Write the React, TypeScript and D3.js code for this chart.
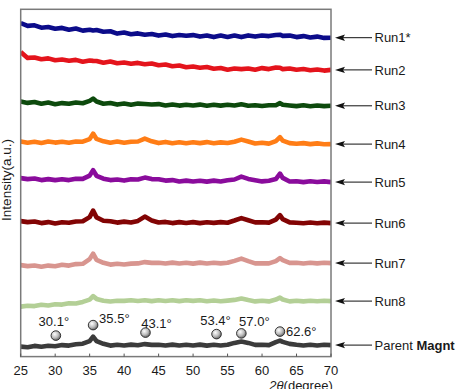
import React from "react";
import * as d3 from "d3";

const W = 457, H = 389;
const M = { left: 20.7, top: 9.3, right: 331, bottom: 356.6 };
const FONT = "'Liberation Sans', Arial, Helvetica, sans-serif";

// 2θ grid (degrees)
const TWO_THETA = [25, 26, 27, 28, 29, 30, 31, 32, 33, 34, 35, 35.5, 36, 37, 38, 39, 40, 41, 42, 43, 44, 45, 46, 47, 48, 49, 50, 51, 52, 53, 54, 55, 56, 57, 58, 59, 60, 61, 62, 62.6, 63, 64, 65, 66, 67, 68, 69, 70];

const X_TICKS = [25, 30, 35, 40, 45, 50, 55, 60, 65, 70];

const NAMES = ["Run1*", "Run2", "Run3", "Run4", "Run5", "Run6", "Run7", "Run8", "Parent"];
const COLORS = ["#0c0c8a", "#e4141c", "#0d4a0d", "#ff7d16", "#8a0c9c", "#820404", "#d8958f", "#b3cf96", "#3b3b3b"];
// vertical stacking offset of each pattern (a.u.)
const OFFSETS = [308.5, 276.5, 240.5, 202.5, 164.5, 123.5, 83.5, 45.5, 1.5];

const RUN1 = [25, 22.2, 22.8, 20.4, 21.1, 19.3, 20.2, 18.4, 19.6, 17.5, 18.3, 17.6, 18.1, 16.4, 16.8, 14.5, 15.6, 13.9, 14.7, 13.4, 14.1, 12.5, 13.6, 12.0, 13.1, 12.4, 13.0, 11.5, 12.6, 11.0, 12.5, 11.2, 12.6, 11.0, 12.7, 11.5, 12.6, 12.0, 13.1, 13.4, 12.2, 12.5, 11.0, 12.0, 10.6, 11.5, 10.2, 10.4];
const RUN2 = [28, 22.2, 22.6, 20.8, 21.7, 19.8, 20.6, 19.3, 20.2, 18.3, 19.6, 19.2, 19.1, 17.4, 18.6, 16.8, 17.6, 16.3, 17.2, 15.8, 16.6, 14.9, 15.6, 13.9, 14.6, 12.9, 13.6, 12.4, 13.1, 11.4, 12.1, 10.4, 11.6, 11.0, 11.6, 10.4, 12.0, 11.0, 12.5, 12.4, 11.0, 11.6, 10.4, 11.1, 9.9, 10.6, 9.5, 10.2];
const RUN3 = [14.5, 13.2, 14.1, 12.4, 13.5, 11.9, 13.0, 12.3, 13.6, 12.9, 15.2, 17.5, 14.6, 12.4, 13.1, 11.5, 12.6, 11.4, 12.5, 12.1, 11.6, 12.0, 10.6, 11.6, 10.5, 11.4, 10.6, 11.5, 10.4, 11.3, 10.5, 11.4, 10.6, 11.8, 10.4, 10.9, 10.1, 10.9, 10.8, 13.0, 11.3, 10.6, 10.0, 10.8, 9.9, 10.6, 10.0, 10.3];
const RUN4 = [12.5, 11.4, 12.3, 11.2, 12.6, 11.5, 12.4, 11.3, 12.5, 12.4, 15.0, 20.5, 15.2, 12.8, 11.4, 12.5, 11.3, 12.4, 12.6, 15.5, 12.8, 11.0, 12.2, 10.9, 11.9, 10.8, 11.8, 11.0, 12.0, 10.9, 11.7, 11.1, 12.4, 14.5, 12.6, 10.6, 11.4, 10.5, 13.0, 17.0, 13.5, 11.0, 10.4, 11.0, 10.0, 10.7, 9.8, 10.0];
const RUN5 = [14.0, 13.0, 13.6, 12.0, 13.0, 12.0, 12.8, 12.0, 13.4, 13.2, 16.5, 22.0, 16.3, 13.4, 12.0, 12.6, 11.5, 12.9, 12.6, 14.5, 13.0, 12.9, 11.5, 12.0, 10.6, 11.5, 10.6, 11.4, 10.5, 11.5, 10.6, 11.9, 12.6, 15.5, 13.2, 11.9, 10.7, 11.4, 13.0, 18.5, 14.2, 10.6, 10.8, 10.0, 10.8, 10.1, 10.7, 10.0];
const RUN6 = [12.0, 11.0, 11.6, 10.0, 11.0, 9.6, 10.9, 10.4, 11.6, 11.8, 16.0, 22.5, 15.7, 12.3, 11.9, 10.5, 11.5, 10.6, 12.2, 16.5, 12.6, 10.6, 11.2, 10.0, 11.0, 10.1, 11.0, 10.0, 10.9, 10.2, 11.0, 10.4, 12.6, 15.0, 12.8, 10.7, 10.9, 10.5, 13.5, 18.0, 14.0, 10.7, 10.4, 9.8, 10.6, 9.9, 10.5, 10.0];
const RUN7 = [8.0, 7.0, 7.6, 6.4, 7.5, 6.9, 8.4, 7.5, 9.0, 9.3, 14.0, 19.5, 13.3, 10.3, 8.5, 9.4, 8.6, 9.5, 9.7, 11.0, 10.2, 10.4, 9.6, 10.5, 9.6, 10.4, 9.5, 10.5, 9.6, 10.4, 9.7, 10.3, 12.2, 14.5, 12.0, 9.7, 9.9, 9.7, 12.0, 15.0, 13.0, 10.2, 10.4, 9.6, 10.4, 9.7, 10.3, 10.0];
const RUN8 = [4.5, 5.4, 5.0, 6.4, 5.6, 6.9, 6.5, 7.9, 7.6, 9.2, 11.5, 15.0, 12.2, 10.4, 9.6, 10.4, 10.2, 10.9, 10.1, 10.8, 10.0, 10.9, 10.1, 10.8, 10.0, 10.9, 10.2, 10.8, 9.9, 10.6, 9.8, 10.5, 11.2, 12.5, 11.0, 9.7, 10.4, 9.7, 11.5, 13.5, 11.6, 9.7, 10.4, 9.7, 10.3, 9.8, 10.3, 10.0];
const PARENT = [8.5, 7.8, 9.2, 8.4, 9.3, 8.9, 10.0, 9.5, 10.8, 11.4, 14.0, 18.5, 14.0, 11.3, 9.5, 10.4, 9.6, 10.5, 9.8, 11.0, 10.2, 10.4, 9.6, 10.5, 9.6, 10.4, 9.6, 10.5, 9.5, 10.4, 9.6, 10.3, 12.2, 13.5, 12.2, 10.2, 10.3, 10.0, 13.0, 14.5, 13.2, 11.2, 10.3, 9.6, 10.4, 9.6, 10.4, 10.0];

const SERIES = [RUN1, RUN2, RUN3, RUN4, RUN5, RUN6, RUN7, RUN8, PARENT];

// magnetite reflections and marker heights (a.u.)
const PEAKS = [30.1, 35.5, 43.1, 53.4, 57.0, 62.6];
const PEAK_LABELS = ["30.1°", "35.5°", "43.1°", "53.4°", "57.0°", "62.6°"];
const MARKER_I = [21, 31.5, 24, 22.5, 23.2, 25];
// label placement relative to marker
const LABEL_POS = [
  { dx: -2, dy: -10, anchor: "middle" },
  { dx: 6, dy: -2, anchor: "start" },
  { dx: 11, dy: -5, anchor: "middle" },
  { dx: -1, dy: -9, anchor: "middle" },
  { dx: 13, dy: -7, anchor: "middle" },
  { dx: 6, dy: 4, anchor: "start" },
];

export default function App() {
  const x = d3.scaleLinear().domain([25, 70]).range([M.left, M.right]);
  const y = d3.scaleLinear().domain([0, M.bottom - M.top]).range([M.bottom, M.top]);

  const line = d3.line<number>()
    .x((_, i) => x(TWO_THETA[i]))
    .y(d => y(d));

  return (
    <div style={{ position: "absolute", left: 0, top: 0, width: W, height: H, background: "#fff" }}>
      <svg width={W} height={H} style={{ display: "block", fontFamily: FONT }}>
        <defs>
          <radialGradient id="ball" cx="38%" cy="35%" r="70%">
            <stop offset="0%" stopColor="#ffffff" />
            <stop offset="55%" stopColor="#bcbcbc" />
            <stop offset="100%" stopColor="#5a5a5a" />
          </radialGradient>
          <clipPath id="plotClip">
            <rect x={M.left} y={M.top} width={M.right - M.left} height={M.bottom - M.top} />
          </clipPath>
        </defs>

        {/* patterns */}
        <g clipPath="url(#plotClip)">
          {SERIES.map((s, k) => (
            <path key={NAMES[k]} d={line(s.map(v => v + OFFSETS[k])) || ""}
              fill="none" stroke={COLORS[k]} strokeWidth={4.6} strokeLinejoin="round" />
          ))}
        </g>

        {/* frame */}
        <rect x={M.left} y={M.top} width={M.right - M.left} height={M.bottom - M.top}
          fill="none" stroke="#7a7a7a" strokeWidth={1.5} />

        {/* x ticks */}
        {X_TICKS.map(t => (
          <g key={t}>
            <line x1={x(t)} x2={x(t)} y1={M.bottom} y2={M.bottom - 3} stroke="#555" strokeWidth={1} />
            <text x={x(t)} y={374.5} textAnchor="middle" fontSize={13} fill="#1a1a1a">{t}</text>
          </g>
        ))}
        <text x={301} y={389.5} textAnchor="middle" fontSize={13} fill="#1a1a1a">
          <tspan fontStyle="italic">2θ</tspan>(degree)
        </text>

        {/* y label */}
        <text transform={`translate(11,180) rotate(-90)`} textAnchor="middle" fontSize={13.5} fill="#1a1a1a">
          Intensity(a.u.)
        </text>

        {/* reflection markers */}
        {PEAKS.map((p, i) => {
          const cx = x(p), cy = y(MARKER_I[i]);
          const lp = LABEL_POS[i];
          return (
            <g key={p}>
              <circle cx={cx} cy={cy} r={4.8} fill="url(#ball)" stroke="#222" strokeWidth={0.9} />
              <text x={cx + lp.dx} y={cy + lp.dy} textAnchor={lp.anchor as any} fontSize={13} fill="#1a1a1a">
                {PEAK_LABELS[i]}
              </text>
            </g>
          );
        })}

        {/* right-hand labels with arrows */}
        {SERIES.map((s, k) => {
          const yy = y(s[s.length - 1] + OFFSETS[k]);
          return (
            <g key={"lab" + k}>
              <line x1={343} x2={372} y1={yy} y2={yy} stroke="#111" strokeWidth={1} />
              <path d={`M335,${yy} L345,${yy - 3.2} L343,${yy} L345,${yy + 3.2} Z`} fill="#111" />
              <text x={374.5} y={yy + 4.6} fontSize={13} fill="#1a1a1a">
                {k === 8 ? (<><tspan>Parent </tspan><tspan fontWeight="bold">Magnt</tspan></>) : NAMES[k]}
              </text>
            </g>
          );
        })}
      </svg>
    </div>
  );
}
